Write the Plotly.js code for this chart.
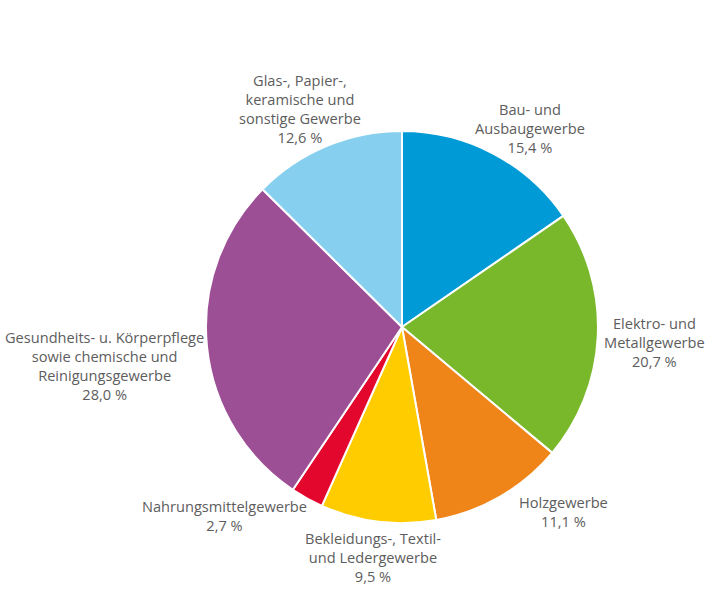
<!DOCTYPE html>
<html>
<head>
<meta charset="utf-8">
<script src="https://cdn.plot.ly/plotly-3.0.1.min.js"></script>
<style>html,body{margin:0;padding:0;background:#fff;}#chart{width:714px;height:595px;}</style>
</head>
<body>
<div id="chart"></div>
<script>
const categories = [
  "Bau- und<br>Ausbaugewerbe",
  "Elektro- und<br>Metallgewerbe",
  "Holzgewerbe",
  "Bekleidungs-, Textil-<br>und Ledergewerbe",
  "Nahrungsmittelgewerbe",
  "Gesundheits- u. Körperpflege<br>sowie chemische und<br>Reinigungsgewerbe",
  "Glas-, Papier-,<br>keramische und<br>sonstige Gewerbe"
];
const values = [15.4, 20.7, 11.1, 9.5, 2.7, 28.0, 12.6];
const colors = ["#009bd6", "#78b82a", "#ef8519", "#ffcc00", "#e3062d", "#9d4f96", "#87cfef"];
const labelPos = [
  [0.742, 0.785], [0.917, 0.425], [0.789, 0.141], [0.522, 0.064],
  [0.315, 0.134], [0.147, 0.385], [0.420, 0.818]
];

const fmt = v => v.toFixed(1).replace('.', ',') + ' %';

const trace = {
  type: 'pie',
  labels: categories,
  values: values,
  sort: false,
  direction: 'clockwise',
  rotation: 0,
  textinfo: 'none',
  hoverinfo: 'label+percent',
  marker: { colors: colors, line: { color: '#ffffff', width: 2 } },
  domain: { x: [0.2885, 0.8375], y: [0.121, 0.7798] },
  showlegend: false
};

const annotations = categories.map((c, i) => ({
  text: c + '<br>' + fmt(values[i]),
  x: labelPos[i][0], y: labelPos[i][1],
  xref: 'paper', yref: 'paper',
  xanchor: 'center', yanchor: 'middle',
  showarrow: false,
  align: 'center',
  font: { family: 'Open Sans, sans-serif', size: 14.6, color: '#5d5d5d' }
}));

Plotly.newPlot('chart', [trace], {
  width: 714, height: 595,
  margin: { l: 0, r: 0, t: 0, b: 0 },
  paper_bgcolor: '#ffffff',
  annotations: annotations
}, { displayModeBar: false, staticPlot: true });
</script>
</body>
</html>
